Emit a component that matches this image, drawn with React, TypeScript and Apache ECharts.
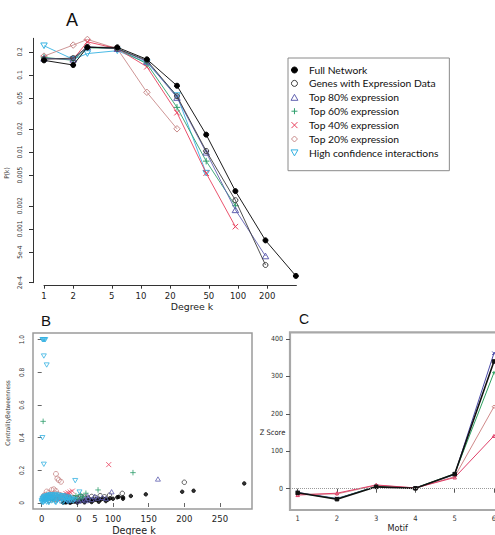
import React, { useEffect, useRef } from 'react';
import * as echarts from 'echarts';

// ---------- Panel A: degree distribution (log-log) ----------
const aDegree = [1, 2, 2.8, 5.7, 11.5, 23.5, 47, 94, 192, 395];
const aFull = [0.155, 0.135, 0.229, 0.229, 0.16, 0.0726, 0.0168, 0.0031, 0.00071, 0.000245];
const aGenes = [0.16, 0.166, 0.232, 0.22, 0.155, 0.053, 0.0103, 0.00236, 0.00034];
const aTop80 = [0.165, 0.16, 0.232, 0.22, 0.15, 0.051, 0.0099, 0.00177, 0.000445];
const aTop60 = [0.17, 0.155, 0.226, 0.22, 0.14, 0.038, 0.0076, 0.002];
const aTop40 = [0.165, 0.16, 0.27, 0.22, 0.128, 0.0324, 0.0053, 0.00107];
const aTop20 = [0.176, 0.245, 0.29, 0.22, 0.0596, 0.02];
const aHigh = [0.24, 0.16, 0.19, 0.207, 0.145, 0.054, 0.0053];

const aXTicks = [1, 2, 5, 10, 20, 50, 100, 200];
const aYTicks = [0.2, 0.1, 0.05, 0.02, 0.01, 0.005, 0.002, 0.001, 0.0005, 0.0002];
const aYLabels = ['0.2', '0.1', '0.05', '0.02', '0.01', '0.005', '0.002', '0.001', '5e-4', '2e-4'];

const seriesNames = [
  'Full Network',
  'Genes with Expression Data',
  'Top 80% expression',
  'Top 60% expression',
  'Top 40% expression',
  'Top 20% expression',
  'High confidence interactions',
];

// ---------- Panel B: betweenness centrality vs degree ----------
const bFull = [
  [30, 0.003], [32, 0.005], [34, 0.004], [36, 0.007], [38, 0.006], [40, 0.009], [42, 0.007], [44, 0.011],
  [46, 0.009], [48, 0.012], [50, 0.01], [52, 0.014], [54, 0.012], [56, 0.015], [58, 0.013], [60, 0.017],
  [62, 0.014], [64, 0.019], [66, 0.016], [68, 0.02], [70, 0.017], [72, 0.022], [74, 0.019], [76, 0.023],
  [78, 0.02], [81, 0.025], [83, 0.021], [86, 0.027], [89, 0.024], [93, 0.022], [96, 0.029], [100, 0.026],
  [106, 0.035], [108, 0.038], [114, 0.026], [114, 0.035], [125, 0.043], [146, 0.053], [197, 0.069],
  [213, 0.075], [284, 0.12], [40, 0.002], [50, 0.003], [60, 0.004], [70, 0.006], [80, 0.008], [90, 0.012],
];
const bGenes = [
  [200, 0.127], [113, 0.059], [82, 0.045], [95, 0.048], [70, 0.04], [60, 0.036], [50, 0.03], [40, 0.028],
  [30, 0.024], [20, 0.02], [15, 0.03], [25, 0.035], [35, 0.04], [45, 0.033], [55, 0.042], [65, 0.03],
  [75, 0.035], [88, 0.038], [10, 0.015],
];
const bTop80 = [
  [163, 0.147], [98, 0.069], [64, 0.045], [74, 0.04], [56, 0.039], [47, 0.03], [25, 0.03], [30, 0.035],
  [35, 0.025], [40, 0.038], [45, 0.02], [50, 0.028], [55, 0.02], [60, 0.025], [65, 0.03], [70, 0.022],
  [78, 0.03], [85, 0.035], [90, 0.028], [38, 0.015], [52, 0.012], [62, 0.015],
];
const bTop60 = [
  [2, 0.5], [128, 0.186], [79, 0.08], [62, 0.06], [54, 0.052], [20, 0.03], [25, 0.035], [30, 0.028],
  [35, 0.04], [40, 0.035], [45, 0.03], [50, 0.025], [55, 0.03], [48, 0.045], [58, 0.04], [15, 0.02], [42, 0.02],
];
const bTop40 = [
  [94, 0.235], [43, 0.073], [40, 0.067], [37, 0.062], [34, 0.058], [30, 0.05], [25, 0.045], [20, 0.04],
  [15, 0.035], [28, 0.03], [32, 0.04], [36, 0.045], [10, 0.025], [22, 0.025],
];
const bTop20 = [
  [20, 0.178], [22, 0.15], [24, 0.14], [27, 0.13], [14, 0.08], [17, 0.084], [20, 0.073], [7, 0.07],
  [10, 0.062], [12, 0.055], [5, 0.05], [3, 0.045], [8, 0.045], [15, 0.05], [18, 0.06], [22, 0.055],
  [25, 0.05], [28, 0.045], [2, 0.035], [6, 0.038], [11, 0.04], [16, 0.042], [24, 0.038], [30, 0.04],
];
const bHigh = [
  [1, 1.0], [2, 1.0], [3, 1.0], [4, 1.0], [5, 1.0], [3, 0.9], [7, 0.845], [1, 0.4], [3, 0.237], [47, 0.137],
  [53, 0.067], [0, 0.005], [0, 0.015], [1, 0.025], [1, 0.01], [2, 0.03], [2, 0.018], [3, 0.008], [3, 0.035],
  [4, 0.022], [4, 0.04], [5, 0.012], [5, 0.03], [6, 0.042], [6, 0.02], [7, 0.005], [7, 0.033], [8, 0.045],
  [8, 0.015], [9, 0.027], [10, 0.048], [10, 0.008], [11, 0.035], [12, 0.02], [12, 0.05], [13, 0.04],
  [14, 0.012], [14, 0.028], [15, 0.05], [16, 0.036], [17, 0.018], [18, 0.045], [19, 0.006], [19, 0.03],
  [20, 0.052], [21, 0.04], [22, 0.015], [23, 0.025], [24, 0.047], [25, 0.035], [26, 0.01], [27, 0.042],
  [28, 0.02], [29, 0.03], [30, 0.045], [31, 0.012], [32, 0.035], [33, 0.025], [34, 0.04], [35, 0.018],
  [36, 0.03], [37, 0.008], [38, 0.022], [39, 0.035], [40, 0.015], [42, 0.025], [44, 0.012], [46, 0.02],
  [2, 0.002], [10, 0.002], [20, 0.003], [30, 0.003],
];
const bXTicks = [0, 50, 100, 150, 200, 250];
const bYTicks = [0, 0.2, 0.4, 0.6, 0.8, 1.0];
const bYLabels = ['0', '0.2', '0.4', '0.6', '0.8', '1.0'];

// ---------- Panel C: motif Z scores ----------
const cMotif = [1, 2, 3, 4, 5, 6];
const cFull = [-11, -28, 5, 1, 39, 340];
const cTop80 = [-10, -26, 6, 2, 38, 362];
const cTop60 = [-11, -27, 6, 2, 40, 310];
const cTop20 = [-15, -14, 9, 2, 32, 219];
const cTop40 = [-17, -12, 10, 2, 30, 141];
const cYTicks = [0, 100, 200, 300, 400];

// ---------- styling ----------
const COL = ['#000000', '#3a3a3a', '#6060b0', '#2e9e6c', '#e8405c', '#c88a8a', '#35b2e2'];
const SYM_PLUS = 'path://M5,0L5,10M0,5L10,5';
const SYM_CROSS = 'path://M0,0L10,10M10,0L0,10';
const SYM_UTRI = 'path://M5,0L10,8.66L0,8.66Z';
const SYM_DTRI = 'path://M0,0L10,0L5,8.66Z';
const SYM_DIAM = 'path://M5,0L10,5L5,10L0,5Z';
const SYMS = ['circle', 'circle', SYM_UTRI, SYM_PLUS, SYM_CROSS, SYM_DIAM, SYM_DTRI];
const FILLED = [true, false, false, false, false, false, false];
const ASIZE = [5, 5, 6.5, 6.5, 5.5, 6.5, 6.5];

const NARROW = "'Liberation Sans Narrow', 'DejaVu Sans Condensed', sans-serif";
const WIDE = "'DejaVu Sans', Verdana, sans-serif";

const pairs = (xs: number[], ys: number[]) => ys.map((y, i) => [xs[i], y]);

function buildOption(): any {
  const aData = [aFull, aGenes, aTop80, aTop60, aTop40, aTop20, aHigh];
  const aSeries = aData.map((ys, i) => ({
    type: 'line',
    name: seriesNames[i],
    xAxisIndex: 0,
    yAxisIndex: 0,
    data: pairs(aDegree, ys),
    symbol: SYMS[i],
    symbolSize: ASIZE[i],
    symbolKeepAspect: true,
    showSymbol: true,
    lineStyle: { color: COL[i], width: 0.9 },
    itemStyle: { color: FILLED[i] ? COL[i] : 'none', borderColor: COL[i], borderWidth: 1 },
    emphasis: { disabled: true },
    z: 10 - i,
  }));

  const bData = [bFull, bGenes, bTop80, bTop60, bTop40, bTop20, bHigh];
  const bSyms = ['circle', 'circle', SYM_UTRI, SYM_PLUS, SYM_CROSS, 'circle', SYM_DTRI];
  const bSizes = [3.5, 4.5, 5, 5.5, 5, 5, 5];
  const bSeries = bData.map((pts, i) => ({
    type: 'scatter',
    name: 'B ' + seriesNames[i],
    xAxisIndex: 1,
    yAxisIndex: 1,
    data: pts,
    symbol: bSyms[i],
    symbolSize: bSizes[i],
    symbolKeepAspect: true,
    itemStyle: { color: FILLED[i] ? COL[i] : 'none', borderColor: COL[i], borderWidth: 1 },
    emphasis: { disabled: true },
  }));

  const cData = [cTop80, cTop60, cTop20, cTop40, cFull];
  const cCols = ['#4a4aa8', '#2ea060', '#d08a8a', '#e0406a', '#111111'];
  const cSyms = [SYM_CROSS, SYM_PLUS, SYM_DIAM, SYM_UTRI, 'rect'];
  const cSeries = cData.map((ys, i) => ({
    type: 'line',
    name: 'C' + i,
    xAxisIndex: 2,
    yAxisIndex: 2,
    data: pairs(cMotif, ys),
    symbol: cSyms[i],
    symbolSize: 3.5,
    symbolKeepAspect: true,
    lineStyle: { color: cCols[i], width: i === 4 ? 1.6 : 1 },
    itemStyle: { color: i === 4 ? cCols[i] : 'none', borderColor: cCols[i], borderWidth: 1 },
    emphasis: { disabled: true },
    markLine:
      i === 0
        ? {
            silent: true,
            symbol: ['none', 'none'],
            label: { show: false },
            lineStyle: { type: 'dotted', color: '#9a9a9a', width: 1 },
            data: [{ yAxis: 0 }],
          }
        : undefined,
  }));

  const txt = (text: string, x: number, y: number, size: number, family: string, rot = 0, color = '#111') => ({
    type: 'text',
    x,
    y,
    rotation: rot,
    style: { text, fontSize: size, fontFamily: family, fill: color, align: 'center', verticalAlign: 'middle' },
  });

  return {
    animation: false,
    backgroundColor: '#ffffff',
    grid: [
      { left: 44, top: 38.3, width: 252.4, height: 244.4, show: false, containLabel: false, outerBoundsMode: 'none' },
      { left: 33, top: 333, width: 219, height: 176, show: true, borderColor: '#9a9a9a', borderWidth: 1.5, backgroundColor: 'transparent', containLabel: false, outerBoundsMode: 'none' },
      { left: 290, top: 332.3, width: 211.8, height: 177.7, show: true, borderColor: '#a8a8a8', borderWidth: 2.2, backgroundColor: 'transparent', containLabel: false, outerBoundsMode: 'none' },
    ],
    xAxis: [
      {
        gridIndex: 0, type: 'log', logBase: 10, min: 1, max: 400, offset: 3,
        axisLine: { show: true, lineStyle: { color: '#333', width: 1 } },
        axisTick: { show: true, customValues: aXTicks, length: 3, lineStyle: { color: '#333' } },
        axisLabel: { customValues: aXTicks, fontFamily: WIDE, fontSize: 8.5, color: '#222', margin: 6,
          formatter: (v: number) => String(Math.round(v)) },
        splitLine: { show: false },
      },
      {
        gridIndex: 1, type: 'value', min: -12.2, max: 294.9,
        axisLine: { show: false },
        axisTick: { show: true, customValues: bXTicks, length: 4, lineStyle: { color: '#666' } },
        axisLabel: {
          customValues: bXTicks, margin: 5, color: '#222',
          formatter: (v: number) => (Math.round(v) === 50 ? '{s| }{n|0}{g| }{n|5}' : '{n|' + Math.round(v) + '}'),
          rich: {
            n: { fontFamily: WIDE, fontSize: 8.5, color: '#222' },
            s: { width: 19, fontSize: 8.5 },
            g: { width: 10.6, fontSize: 8.5 },
          },
        },
        splitLine: { show: false },
      },
      {
        gridIndex: 2, type: 'value', min: 0.804, max: 6.2,
        axisLine: { show: false },
        axisTick: { show: true, customValues: cMotif, length: 4, lineStyle: { color: '#555' } },
        axisLabel: { customValues: cMotif, fontFamily: NARROW, fontSize: 7.5, color: '#333', margin: 4 },
        splitLine: { show: false },
      },
    ],
    yAxis: [
      {
        gridIndex: 0, type: 'log', logBase: 10, min: 0.0002, max: 0.3, offset: 11,
        axisLine: { show: true, lineStyle: { color: '#333', width: 1 } },
        axisTick: { show: true, customValues: aYTicks, length: 4, lineStyle: { color: '#333' } },
        axisLabel: {
          customValues: aYTicks, rotate: 90, margin: 10, fontFamily: NARROW, fontSize: 6.5, color: '#333',
          formatter: (v: number) => {
            const i = aYTicks.findIndex((t) => Math.abs(Math.log10(t) - Math.log10(v)) < 1e-4);
            return i >= 0 ? aYLabels[i] : '';
          },
        },
        splitLine: { show: false },
      },
      {
        gridIndex: 1, type: 'value', min: -0.0367, max: 1.041,
        axisLine: { show: false },
        axisTick: { show: true, customValues: bYTicks, length: 4, lineStyle: { color: '#666' } },
        axisLabel: {
          customValues: bYTicks, rotate: 90, margin: 8, fontFamily: NARROW, fontSize: 6.5, color: '#333',
          formatter: (v: number) => {
            const i = bYTicks.findIndex((t) => Math.abs(t - v) < 1e-6);
            return i >= 0 ? bYLabels[i] : '';
          },
        },
        splitLine: { show: false },
      },
      {
        gridIndex: 2, type: 'value', min: -56.9, max: 417.9,
        axisLine: { show: false },
        axisTick: { show: true, customValues: cYTicks, length: 4, lineStyle: { color: '#555' } },
        axisLabel: { customValues: cYTicks, fontFamily: NARROW, fontSize: 7, color: '#333', margin: 7 },
        splitLine: { show: false },
      },
    ],
    legend: {
      orient: 'vertical',
      left: 288,
      top: 58,
      padding: [7, 11, 12.3, 0.5],
      itemWidth: 19,
      itemHeight: 6,
      itemGap: 2.9,
      backgroundColor: '#ffffff',
      borderColor: '#8a8a8a',
      borderWidth: 1,
      borderRadius: 0,
      selectedMode: false,
      textStyle: { fontFamily: 'Lato, sans-serif', fontSize: 10.3, color: '#111' },
      data: seriesNames.map((n, i) => ({
        name: n,
        icon: SYMS[i],
        itemStyle: { color: FILLED[i] ? COL[i] : 'none', borderColor: COL[i], borderWidth: 1 },
      })),
    },
    graphic: [
      txt('A', 72, 20, 18, "'Liberation Sans', sans-serif"),
      txt('B', 46, 320, 15, "'Liberation Sans', sans-serif"),
      txt('C', 304, 319, 14, "'Liberation Sans', sans-serif"),
      txt('P(k)', 7, 173, 6.5, NARROW, Math.PI / 2, '#333'),
      txt('Degree k', 192, 306.5, 9.4, WIDE, 0, '#222'),
      txt('CentralityBetweenness', 7, 413, 6.3, NARROW, Math.PI / 2, '#333'),
      txt('Degree k', 134, 530.5, 9.6, WIDE, 0, '#222'),
      txt('Z Score', 272.5, 432.7, 7.5, NARROW, 0, '#222'),
      txt('Motif', 397.7, 527.7, 9, NARROW, 0, '#222'),
    ],
    series: [...bSeries, ...aSeries, ...cSeries],
  };
}

export default function App() {
  const ref = useRef<HTMLDivElement>(null);
  useEffect(() => {
    if (!ref.current) return;
    const chart = echarts.init(ref.current, null, { renderer: 'svg' });
    chart.setOption(buildOption());
    return () => chart.dispose();
  }, []);
  return (
    <div
      ref={ref}
      style={{ position: 'absolute', left: 0, top: 0, width: 495, height: 535, background: '#fff' }}
    />
  );
}
